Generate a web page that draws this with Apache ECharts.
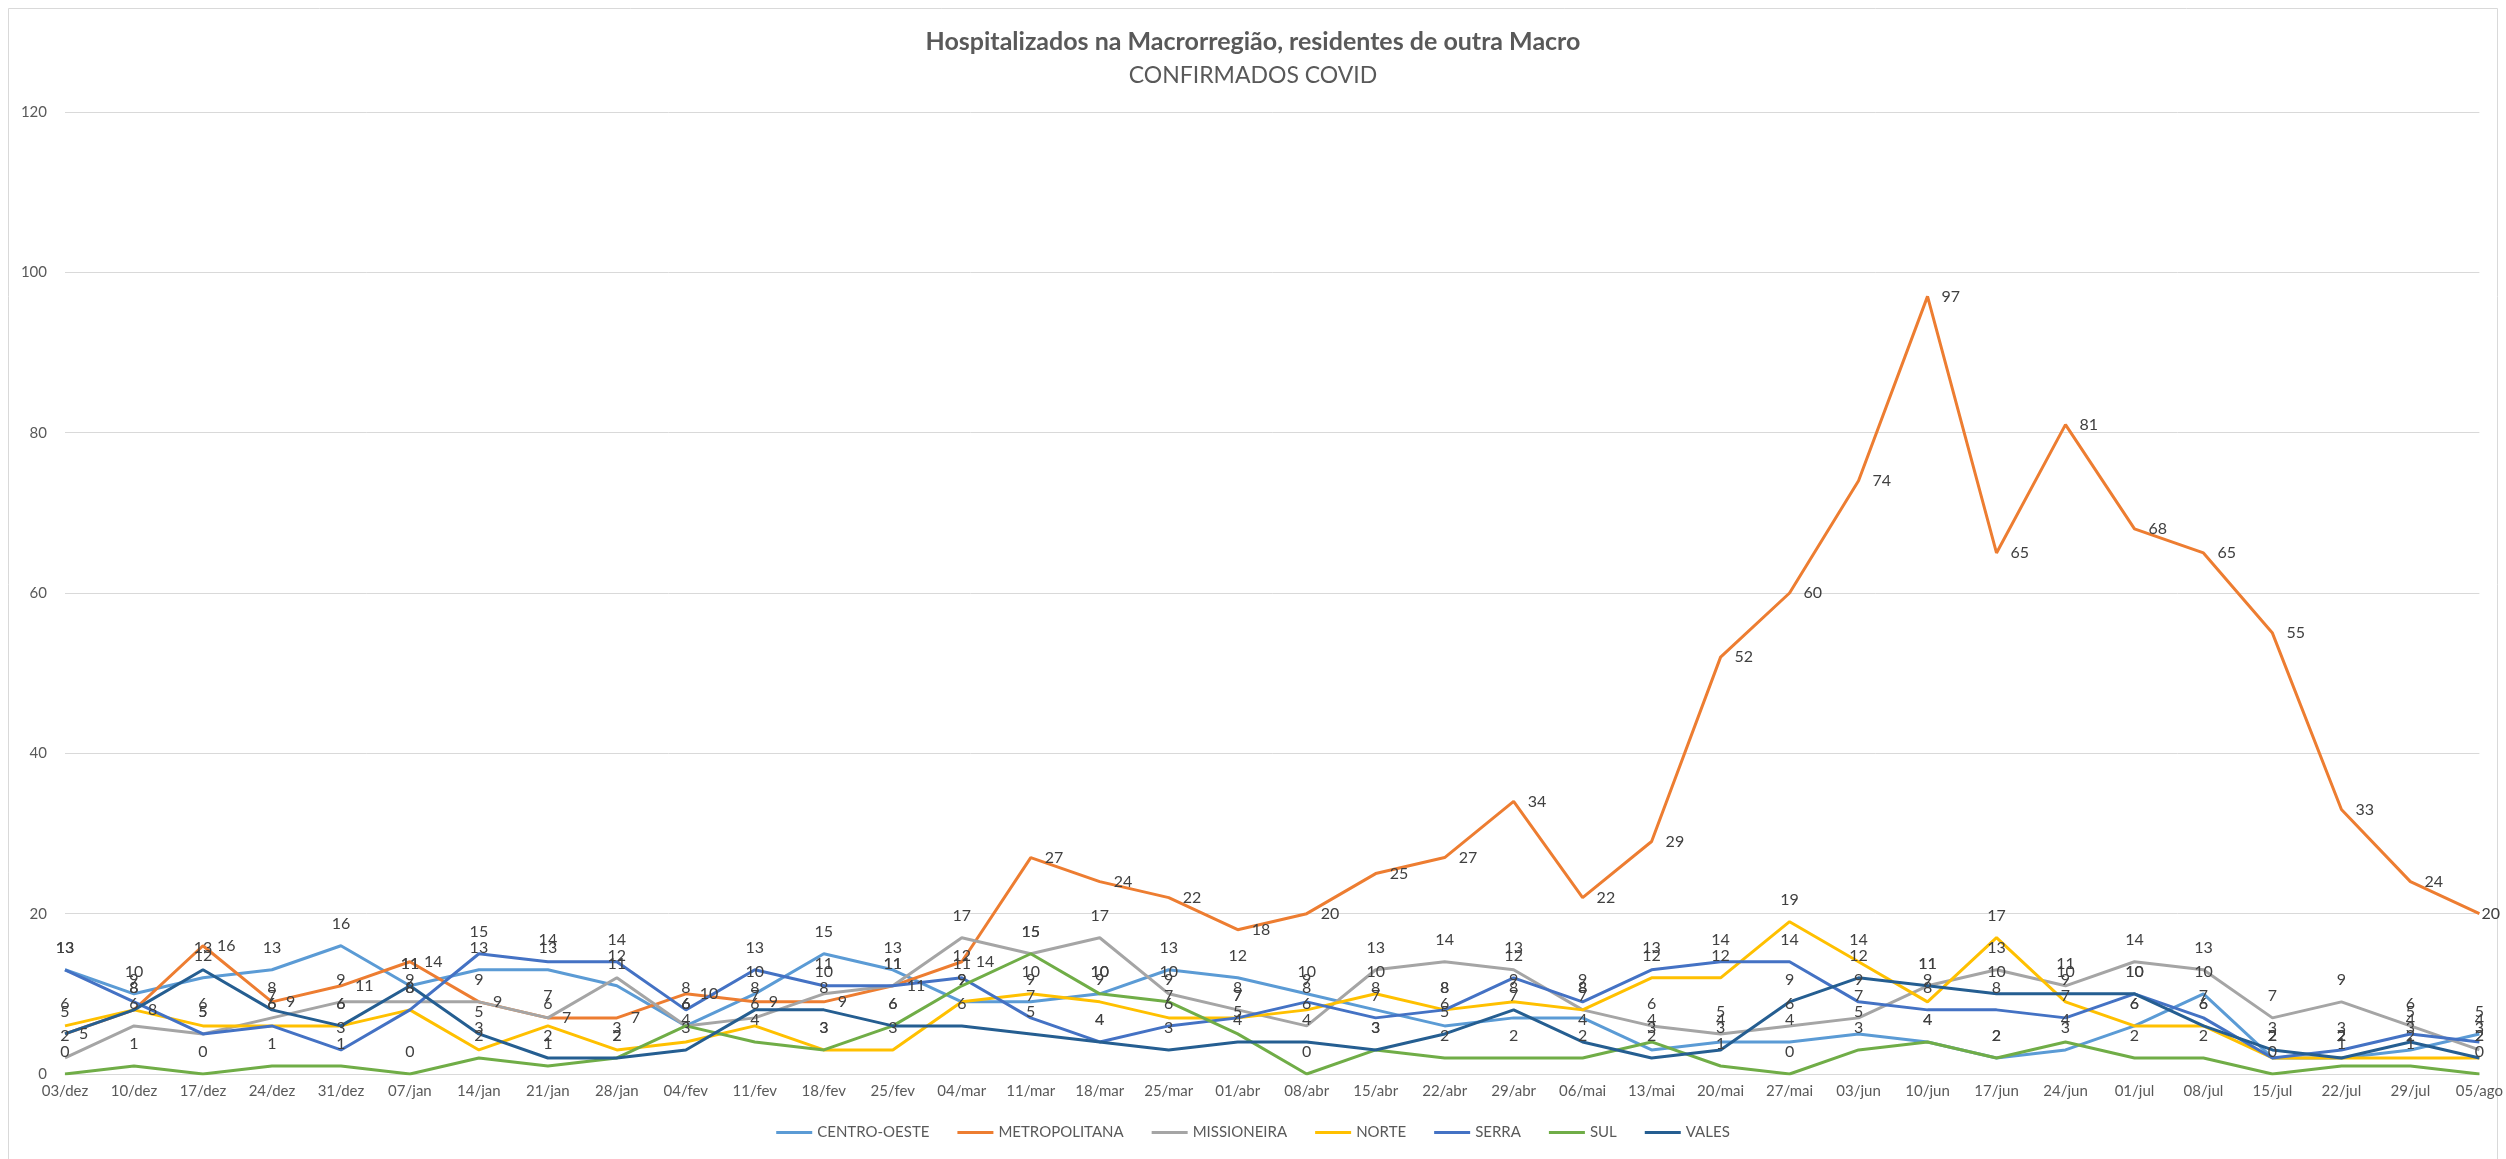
<!DOCTYPE html>
<html>
<head>
<meta charset="utf-8">
<script src="https://cdn.jsdelivr.net/npm/echarts@6/dist/echarts.min.js"></script>
<style>
html,body{margin:0;padding:0;background:#fff;}
#chart{width:2506px;height:1159px;}
</style>
</head>
<body>
<div id="chart"></div>
<script>
const categories = ["03/dez","10/dez","17/dez","24/dez","31/dez","07/jan","14/jan","21/jan","28/jan","04/fev","11/fev","18/fev","25/fev","04/mar","11/mar","18/mar","25/mar","01/abr","08/abr","15/abr","22/abr","29/abr","06/mai","13/mai","20/mai","27/mai","03/jun","10/jun","17/jun","24/jun","01/jul","08/jul","15/jul","22/jul","29/jul","05/ago"];

const centroOeste   = [13,10,12,13,16,11,13,13,11,6,10,15,13,9,9,10,13,12,10,8,6,7,7,3,4,4,5,4,2,3,6,10,2,2,3,5];
const metropolitana = [5,8,16,9,11,14,9,7,7,10,9,9,11,14,27,24,22,18,20,25,27,34,22,29,52,60,74,97,65,81,68,65,55,33,24,20];
const missioneira   = [2,6,5,7,9,9,9,7,12,6,7,10,11,17,15,17,10,8,6,13,14,13,8,6,5,6,7,11,13,11,14,13,7,9,6,3];
const norte         = [6,8,6,6,6,8,3,6,3,4,6,3,3,9,10,9,7,7,8,10,8,9,8,12,12,19,14,9,17,9,6,6,2,2,2,2];
const serra         = [13,9,5,6,3,8,15,14,14,8,13,11,11,12,7,4,6,7,9,7,8,12,9,13,14,14,9,8,8,7,10,7,2,3,5,4];
const sul           = [0,1,0,1,1,0,2,1,2,6,4,3,6,11,15,10,9,5,0,3,2,2,2,4,1,0,3,4,2,4,2,2,0,1,1,0];
const vales         = [5,8,13,8,6,11,5,2,2,3,8,8,6,6,5,4,3,4,4,3,5,8,4,2,3,9,12,11,10,10,10,6,3,2,4,2];

const yTicks = {min: 0, max: 120, interval: 20};

const seriesDefs = [
  {name: "CENTRO-OESTE", data: centroOeste, color: "#5B9BD5", pos: "top"},
  {name: "METROPOLITANA", data: metropolitana, color: "#ED7D31", pos: "right"},
  {name: "MISSIONEIRA", data: missioneira, color: "#A5A5A5", pos: "top"},
  {name: "NORTE", data: norte, color: "#FFC000", pos: "top"},
  {name: "SERRA", data: serra, color: "#4472C4", pos: "top"},
  {name: "SUL", data: sul, color: "#70AD47", pos: "top"},
  {name: "VALES", data: vales, color: "#255E91", pos: "top"}
];

const FONT = 'Lato, "Open Sans", sans-serif';

const chart = echarts.init(document.getElementById('chart'), null, {renderer: 'canvas'});

const series = seriesDefs.map(function (s) {
  const data = s.data.map(function (v, i) {
    if (s.pos === 'right' && i === s.data.length - 1) {
      return {value: v, label: {distance: 2}};
    }
    return v;
  });
  return {
    name: s.name,
    type: 'line',
    data: data,
    symbol: 'circle',
    symbolSize: 0,
    showSymbol: true,
    showAllSymbol: true,
    lineStyle: {color: s.color, width: 3},
    itemStyle: {color: s.color},
    label: {
      show: true,
      position: s.pos,
      distance: 14,
      color: '#404040',
      fontSize: 16,
      fontFamily: FONT
    },
    emphasis: {disabled: true},
    animation: false
  };
});

chart.setOption({
  animation: false,
  backgroundColor: '#ffffff',
  title: {
    text: 'Hospitalizados na Macrorregião, residentes de outra Macro',
    subtext: 'CONFIRMADOS COVID',
    left: 'center',
    top: 24,
    itemGap: 10,
    textStyle: {fontFamily: FONT, fontSize: 25, fontWeight: 'bold', color: '#595959'},
    subtextStyle: {fontFamily: FONT, fontSize: 23, color: '#595959'}
  },
  legend: {
    bottom: 14,
    left: 'center',
    icon: 'rect',
    itemWidth: 36,
    itemHeight: 3,
    itemGap: 28,
    textStyle: {fontFamily: FONT, fontSize: 15, color: '#595959'},
    data: seriesDefs.map(function (s) { return s.name; })
  },
  grid: {left: 65, right: 24, top: 112, bottom: 85, containLabel: false},
  xAxis: {
    type: 'category',
    data: categories,
    boundaryGap: false,
    axisLine: {lineStyle: {color: '#D9D9D9', width: 1}},
    axisTick: {show: false},
    axisLabel: {fontFamily: FONT, fontSize: 15, color: '#595959', margin: 10, interval: 0}
  },
  yAxis: {
    type: 'value',
    min: yTicks.min,
    max: yTicks.max,
    interval: yTicks.interval,
    axisLine: {show: false},
    axisTick: {show: false},
    axisLabel: {fontFamily: FONT, fontSize: 15, color: '#595959', margin: 18},
    splitLine: {lineStyle: {color: '#D9D9D9', width: 1}}
  },
  graphic: [{
    type: 'rect',
    shape: {x: 8.5, y: 8.5, width: 2489, height: 1170},
    style: {fill: 'none', stroke: '#D9D9D9', lineWidth: 1},
    silent: true
  }],
  series: series
});
</script>
</body>
</html>
